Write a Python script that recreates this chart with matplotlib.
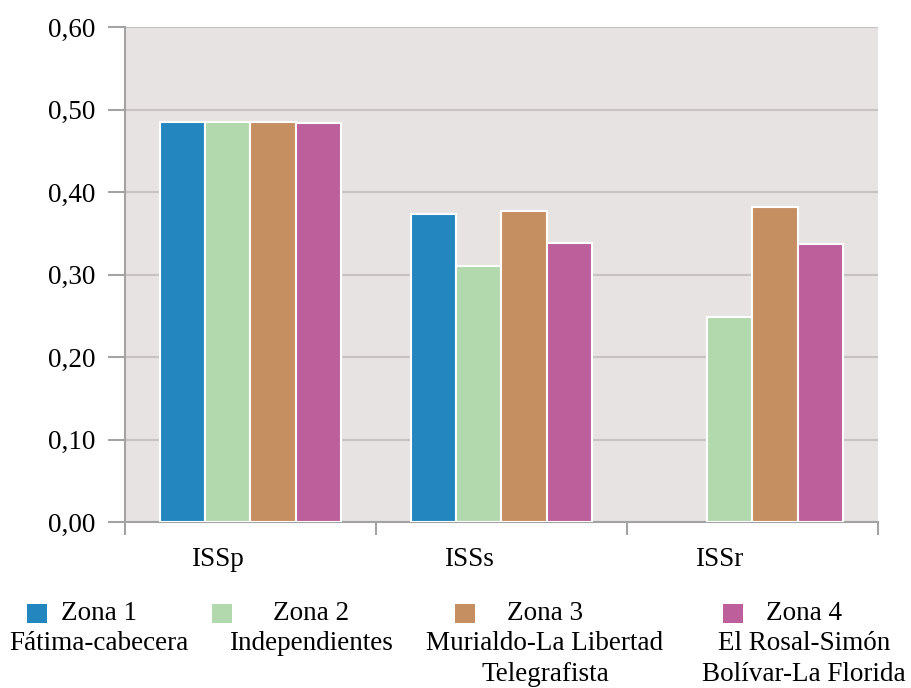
import matplotlib
matplotlib.use("Agg")
import matplotlib.pyplot as plt
import matplotlib.transforms as mtransforms
from matplotlib.patches import Rectangle
import numpy as np

# Data
categories = ["ISSp", "ISSs", "ISSr"]
zona1 = [0.485, 0.373, 0.0]
zona2 = [0.485, 0.310, 0.249]
zona3 = [0.485, 0.377, 0.382]
zona4 = [0.484, 0.338, 0.337]
series_names = ["Zona 1\nFátima-cabecera",
                "Zona 2\nIndependientes",
                "Zona 3\nMurialdo-La Libertad\nTelegrafista",
                "Zona 4\nEl Rosal-Simón\nBolívar-La Florida"]
colors = ["#2386BF", "#B2D8AE", "#C68F62", "#BC5F9B"]
yticks = [0.0, 0.1, 0.2, 0.3, 0.4, 0.5, 0.6]
ytick_labels = ["0,00", "0,10", "0,20", "0,30", "0,40", "0,50", "0,60"]

plt.rcParams["font.family"] = ["Liberation Serif", "DejaVu Serif"]
FS = 19.5

W, H = 912, 688
fig = plt.figure(figsize=(W / 100, H / 100), dpi=100)
ax = fig.add_axes([125 / W, 1 - 522 / H, (878 - 125) / W, (522 - 27) / H])
ax.set_facecolor("#E8E3E3")

x = np.arange(len(categories))
bw = 0.18
all_series = [zona1, zona2, zona3, zona4]
for i, (vals, col) in enumerate(zip(all_series, colors)):
    lws = [1.5 if v > 0 else 0 for v in vals]
    ax.bar(x + (i - 1.5) * bw, vals, width=bw, color=col,
           edgecolor="white", linewidth=lws, zorder=3)

ax.set_xlim(-0.5, 2.5)
ax.set_ylim(0, 0.6)
ax.set_yticks(yticks)
ax.set_yticklabels(ytick_labels, fontsize=FS)
ax.yaxis.grid(True, color="#C8C2C2", linewidth=1.5, zorder=1)
ax.set_axisbelow(True)

for s in ["top", "right"]:
    ax.spines[s].set_visible(False)
for s in ["left", "bottom"]:
    ax.spines[s].set_color("#A3A3A3")
    ax.spines[s].set_linewidth(1.5)

ax.tick_params(axis="y", length=12, width=1.5, color="#A3A3A3", pad=9)

# category labels, boundary ticks
ax.set_xticks(x)
ax.set_xticklabels(categories, fontsize=FS)
ax.set_xticks([-0.5, 0.5, 1.5, 2.5], minor=True)
ax.tick_params(axis="x", which="major", length=0, pad=18)
ax.tick_params(axis="x", which="minor", length=9, width=1.5, color="#A3A3A3")
offset = mtransforms.ScaledTranslation(-33 / 100, 0, fig.dpi_scale_trans)
for lbl in ax.get_xticklabels():
    lbl.set_transform(lbl.get_transform() + offset)

# legend below the plot
square_x = [27, 212, 455, 723]
text_cx = [99, 311, 545, 804]
top_y = 601
for sx, cx, name, col in zip(square_x, text_cx, series_names, colors):
    fig.patches.append(Rectangle((sx / W, 1 - 623 / H), 20 / W, 19 / H,
                                 transform=fig.transFigure, facecolor=col,
                                 edgecolor="none"))
    fig.text(cx / W, 1 - top_y / H, name, ha="center", va="top",
             multialignment="center", fontsize=FS, linespacing=1.28)

fig.savefig("out.png", dpi=100, facecolor="white")
